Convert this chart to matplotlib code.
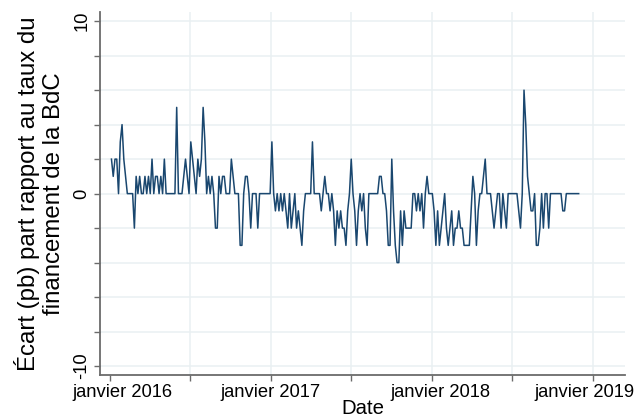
import numpy as np
import pandas as pd
import matplotlib
matplotlib.use('Agg')
import matplotlib.pyplot as plt
import matplotlib.dates as mdates

plt.rcParams['font.family'] = ['Liberation Sans', 'DejaVu Sans']

# one observation every 4 days from early January 2016
start_date = '2016-01-04'
step = '4D'

# spread in basis points
spread_2016 = [2, 1, 2, 2, 0, 3, 4, 2, 1, 0, 0, 0, 0, -2, 1, 0, 1, 0, 0, 1,
               0, 1, 0, 2, 0, 1, 1, 0, 1, 0, 2, 0, 0, 0, 0, 0, 0, 5, 0, 0,
               0, 1, 2, 1, 0, 3, 2, 1, 0, 2, 1, 2, 5, 3, 0, 1, 0, 1, 0, -2,
               -2, 1, 0, 1, 1, 0, 0, 0, 2, 1, 0, 0, 0, -3, -3, 0, 1, 1, 0, -2,
               0, 0, 0, -2, 0, 0, 0, 0, 0, 0, 0]
spread_2017 = [3, 0, -1, 0, -1, 0, -1, 0, -1, -2, 0, -2, -1, 0, -2, -1, -2, -3, -1,
               0, 0, 0, 0, 3, 0, 0, 0, 0, -1, 0, 1, 0, 0, -1, 0, -1, -3, -1, -2,
               -1, -2, -2, -3, -1, 0, 2, 0, -1, -3, -1, 0, -1, 0, -2, -3, 0, 0, 0,
               0, 0, 0, 1, 1, 0, 0, -1, -3, -3, 2, -1, -3, -4, -4, -1, -3, -1, -2,
               -2, -2, -2, 0, 0, -1, 0, -1, 0, -2, 0, 1]
spread_2018 = [0, 0, 0, -1, -3, -1, -3, -2, -1, 0, -2, -3, -2, -1, -3, -2, -2, -1,
               -2, -2, -3, -3, -3, -3, -1, 1, 0, -3, -1, 0, 0, 1, 2, 0, 0, 0, -1,
               -2, -1, 0, 0, -2, 0, -1, -2, 0, 0, 0, 0, 0, 0, -1, -2, 0, 6, 4, 1,
               0, -1, -1, 0, -3, -3, -2, 0, -2, 0, 0, -2, 0, 0, 0, 0, 0, 0, 0, -1,
               -1, 0, 0, 0, 0, 0, 0, 0, 0]

spread = spread_2016 + spread_2017 + spread_2018
dates = pd.date_range(start_date, periods=len(spread), freq=step)

major_ticks = ['2016-01-01', '2017-01-01', '2018-01-01', '2019-01-01']
major_labels = ['janvier 2016', 'janvier 2017', 'janvier 2018', 'janvier 2019']
label_shift = [9, -1, 6, -6]  # points, labels are nudged sideways in the original
minor_ticks = ['2016-07-01', '2017-07-01', '2018-07-01']
y_ticks = [-10, -8, -6, -4, -2, 0, 2, 4, 6, 8, 10]
y_labels = ['-10', '', '', '', '', '0', '', '', '', '', '10']

line_color = '#1a476f'
grid_color = '#e9f0f2'
axis_color = '#6b6b6b'


def main():
    fig = plt.figure(figsize=(6.39, 4.2), dpi=100)
    ax = fig.add_axes([0.1565, 0.107, 0.8215, 0.864])

    # grid lines (none at the first x tick, as in the original)
    for y in y_ticks:
        ax.axhline(y, color=grid_color, lw=1.1, zorder=0)
    for d in major_ticks[1:] + minor_ticks:
        ax.axvline(pd.Timestamp(d), color=grid_color, lw=1.1, zorder=0)

    ax.plot(dates, spread, color=line_color, lw=1.1, zorder=3)

    ax.set_ylim(-10.52, 10.52)
    ax.set_xlim(pd.Timestamp('2015-12-09'), pd.Timestamp('2019-03-14'))

    ax.set_yticks(y_ticks)
    ax.set_yticklabels(y_labels, rotation=90, va='center', fontsize=13.2)
    ax.set_xticks([pd.Timestamp(d) for d in major_ticks])
    ax.set_xticklabels([''] * len(major_ticks))
    ax.set_xticks([pd.Timestamp(d) for d in minor_ticks], minor=True)

    # tick labels drawn by hand so they can sit a little off their ticks
    for d, lab, dx in zip(major_ticks, major_labels, label_shift):
        xn = mdates.date2num(pd.Timestamp(d))
        ax.annotate(lab, xy=(xn, 0), xycoords=ax.get_xaxis_transform(),
                    xytext=(dx, -6.5), textcoords='offset points',
                    ha='center', va='top', fontsize=13.2, annotation_clip=False)

    ax.tick_params(axis='both', which='both', direction='out', length=4,
                   width=1, color=axis_color, pad=3)

    for side in ['top', 'right']:
        ax.spines[side].set_visible(False)
    for side in ['left', 'bottom']:
        ax.spines[side].set_color(axis_color)
        ax.spines[side].set_linewidth(1.3)

    ax.set_ylabel('Écart (pb) part rapport au taux du\nfinancement de la BdC',
                  fontsize=17.3, labelpad=6, linespacing=1.2)
    ax.text(0.5, -0.066, 'Date', transform=ax.transAxes, ha='center', va='top',
            fontsize=14.7)

    fig.savefig('out.png', dpi=100, facecolor='white')


if __name__ == '__main__':
    main()
